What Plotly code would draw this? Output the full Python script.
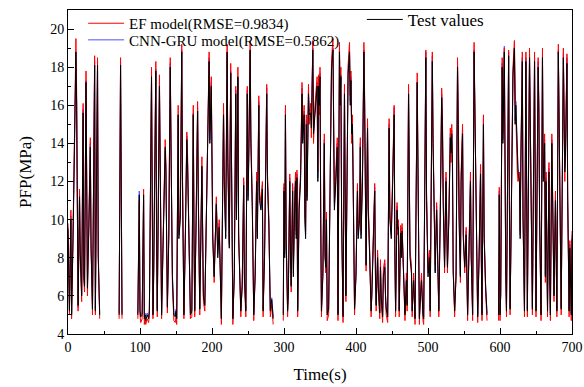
import plotly.graph_objects as go

N = None
time_s = [
    0, 2, 4, 5, 7, 9, 11, 12, 13, 14,
    16, 17, 19, 21, 22, 23, 25, 26, 27, 29,
    31, 32, 34, 37, 38, 41, 42, 44, 45,
    71, 73, 75, 76,
    97, 99, 100, 101, 103, 105, 106, 107, 108, 110,
    112, 113, 116, 117, 118, 119, 122, 123, 124, 127,
    128, 130, 132, 135, 136, 138, 140, 142, 143, 145,
    147, 149, 150, 151, 153, 154, 156, 158, 159, 161,
    163, 165, 166, 168, 170, 172, 174, 175, 176, 178,
    180, 181, 183, 186, 188, 190, 193, 196, 197, 199,
    201, 203, 206, 208, 210, 212, 213, 216, 217, 219,
    221, 222, 224, 226, 227, 229, 231, 233, 234, 236,
    237, 239, 240, 242, 244, 245, 247, 249, 250, 251,
    253, 254, 256, 258, 260, 262, 263, 265, 266, 268,
    270, 271, 273, 276, 277, 279, 281, 283, 285, 286,
    299, 300, 301, 302, 303, 305, 306, 308, 309, 310,
    312, 313, 315, 316, 317, 318, 319, 321, 323, 325,
    326, 328, 329, 330, 331, 332, 334, 335, 337, 338,
    340, 341, 343, 344, 346, 347, 348, 349, 350, 351,
    352, 354, 356, 357, 358, 359, 360, 362, 364, 366,
    368, 369, 370, 372, 374, 375, 377, 378, 379, 380,
    382, 384, 385, 386, 389, 391, 392, 393, 394, 395,
    396, 398, 400, 402, 403, 405, 406, 407, 409, 411,
    412, 413, 414, 416, 417, 419, 421, 422, 424, 426,
    427, 428, 430, 431, 433, 434, 435, 437, 438, 440,
    441, 442, 444, 446, 447, 449, 451, 453, 454, 455,
    457, 458, 459, 460, 462, 463, 464, 466, 468, 470,
    471, 473, 474, 475, 477, 478, 480, 481, 482, 485,
    486, 487, 488, 490, 491, 493, 494, 497, 498, 500,
    502, 503, 504, 506, 507, 509, 510, 512, 513, 515,
    517, 519, 520, 521, 523, 525, 527, 529, 531, 532,
    533, 534, 535, 537, 539, 541, 542, 543, 545, 546,
    548, 549, 551, 553, 555, 557, 559, 560, 562, 564,
    565, 566, 568, 569, 571, 573, 574, 575, 577, 578,
    580, 582, 583,
    598, 599, 600, 601, 603, 604, 606, 607, 608, 609,
    612, 613, 614, 615, 616, 618, 620, 621, 622, 624,
    625, 627, 628, 629, 631, 632, 634, 636, 637, 638,
    641, 642, 643, 645, 648, 649, 650, 653, 654, 655,
    657, 659, 660, 661, 662, 663, 664, 666, 668, 669,
    670, 672, 673, 674, 675, 677, 679, 681, 682, 683,
    685, 688, 689, 690, 691, 693, 694, 696, 697, 698,
    699, 700,
]

test_values = [
    9.5, 5.2, 10.0, 5.0, 9.0, 14.5, 18.8, 16.0, 8.0, 5.5,
    11.2, 8.2, 6.0, 15.6, 7.0, 6.5, 17.2, 10.0, 6.4, 9.6,
    13.8, 8.5, 5.3, 18.1, 5.2, 18.1, 8.0, 5.0, N,
    5.0, 18.1, 5.0, N,
    5.0, 11.3, 5.2, 4.9, 5.0, 11.3, 4.8, 5.0, 4.7, 5.0,
    4.8, 5.2, 17.5, 8.0, 5.0, 7.0, 17.8, 9.0, 5.2, 17.0,
    12.0, 5.0, 8.5, 13.8, 12.5, 5.4, 9.0, 18.0, 14.0, 7.0,
    5.0, 4.9, 5.2, 4.8, 15.5, 9.0, 10.0, 18.8, 12.0, 5.0,
    9.0, 14.2, 13.0, 9.0, 5.0, 5.2, 15.5, 9.0, 5.2, 10.0,
    15.7, 11.0, 5.3, 12.8, 6.0, 5.5, 11.0, 18.3, 14.0, 17.0,
    9.0, 7.0, 10.8, 8.0, 9.6, 5.0, 4.8, 15.5, 12.0, 9.0,
    18.8, 13.0, 8.5, 17.7, 12.0, 4.8, 7.0, 16.6, 10.0, 17.5,
    9.0, 6.0, 5.2, 6.5, 11.8, 7.0, 5.2, 16.6, 11.0, 13.0,
    18.9, 14.0, 10.5, 5.0, 7.0, 12.0, 9.0, 16.0, 11.0, 10.5,
    11.6, 5.2, 8.0, 16.6, 12.0, 9.6, 5.2, 5.8, 4.8, N,
    5.0, 11.5, 8.0, 15.5, 9.0, 5.2, 6.0, 12.0, 8.0, 6.5,
    11.5, 7.0, 11.0, 12.0, 9.0, 12.2, 5.2, 10.5, 12.0, 16.6,
    14.0, 15.5, 10.0, 9.0, 15.0, 11.0, 16.6, 15.5, 15.6, 14.8,
    18.9, 14.5, 15.5, 16.0, 17.0, 12.0, 17.0, 16.0, 17.5, 10.0,
    5.2, 7.0, 14.0, 8.0, 7.5, 10.0, 5.0, 5.3, 12.0, 17.9,
    18.9, 15.0, 10.5, 12.0, 13.8, 5.0, 18.8, 16.0, 17.5, 10.0,
    4.9, 16.6, 10.0, 6.0, 17.6, 18.8, 16.0, 17.3, 14.5, 15.0,
    12.0, 5.3, 7.0, 11.5, 9.0, 10.0, 13.8, 9.0, 12.0, 18.8,
    16.0, 9.0, 7.6, 14.8, 10.5, 8.0, 5.2, 6.0, 8.8, 11.5,
    7.0, 5.5, 8.0, 6.5, 5.1, 7.5, 6.0, 4.9, 7.0, 7.5,
    6.0, 5.3, 4.9, 14.8, 10.0, 9.0, 12.0, 15.5, 8.0, 5.2,
    10.5, 9.5, 9.6, 5.2, 9.3, 8.0, 9.4, 7.6, 5.0, 6.8,
    5.5, 16.6, 11.0, 8.0, 7.2, 5.2, 6.8, 5.5, 4.8, 17.2,
    11.0, 6.5, 4.8, 6.2, 6.8, 5.0, 4.8, 18.5, 11.0, 7.0,
    8.0, 5.2, 10.0, 18.3, 14.0, 10.0, 7.2, 10.5, 8.0, 5.2,
    10.0, 16.4, 15.0, 11.0, 7.5, 12.0, 7.5, 10.0, 14.3, 13.5,
    14.5, 13.0, 7.2, 5.2, 7.0, 18.0, 15.0, 10.2, 7.0, 12.0,
    14.5, 9.0, 7.5, 9.2, 5.0, 8.0, 12.0, 8.0, 5.0, 18.8,
    16.0, 12.0, 7.0, 4.9, 8.0, 12.4, 8.0, 5.0, 15.0, 9.0,
    6.5, 5.0, N,
    5.0, 11.3, 5.0, 6.0, 18.0, 14.0, 18.8, 10.0, 7.0, 5.2,
    18.6, 11.0, 5.3, 8.0, 11.0, 17.5, 19.0, 15.0, 16.0, 13.0,
    12.5, 12.0, 9.0, 13.0, 18.3, 10.0, 5.2, 18.3, 12.0, 5.2,
    18.5, 15.0, 10.5, 5.3, 18.3, 8.0, 5.2, 18.0, 15.5, 10.0,
    5.0, 18.5, 12.0, 13.0, 14.0, 7.0, 12.0, 5.2, 12.5, 7.0,
    5.0, 14.0, 10.0, 8.0, 6.0, 11.0, 5.2, 18.8, 15.5, 11.0,
    5.3, 18.5, 14.0, 12.5, 13.5, 18.2, 11.0, 5.2, 8.5, 7.0,
    5.0, 9.0,
]

ef_model = [
    9.8, 5.0, 10.5, 4.8, 9.4, 15.2, 19.5, 16.8, 8.4, 5.2,
    11.6, 8.0, 5.7, 16.1, 6.8, 6.2, 17.8, 10.4, 6.0, 10.0,
    14.3, 8.9, 5.0, 18.6, 5.0, 18.5, 8.4, 4.8, N,
    4.8, 18.5, 4.8, N,
    4.8, 11.0, 5.0, 4.6, 4.8, 11.6, 4.5, 4.8, 4.5, 4.8,
    4.6, 5.0, 18.0, 8.5, 4.8, 7.4, 18.3, 9.5, 4.9, 17.6,
    12.5, 4.8, 8.9, 14.2, 13.0, 5.1, 9.4, 18.5, 14.5, 6.6,
    4.7, 4.6, 4.9, 4.5, 16.0, 9.4, 10.5, 19.2, 12.6, 4.8,
    9.4, 14.6, 13.5, 8.6, 4.8, 4.9, 16.0, 9.4, 4.9, 10.4,
    16.2, 11.5, 5.0, 13.3, 5.7, 5.2, 11.5, 18.8, 14.6, 17.5,
    9.4, 6.7, 11.2, 8.4, 10.0, 4.7, 4.5, 16.1, 12.5, 9.4,
    19.2, 13.5, 8.9, 18.2, 12.5, 4.5, 7.4, 17.0, 10.5, 18.0,
    9.5, 5.7, 4.9, 6.8, 12.2, 6.7, 4.9, 17.0, 11.5, 13.5,
    19.4, 14.6, 10.9, 4.7, 7.4, 12.5, 9.4, 16.5, 11.5, 10.9,
    12.0, 4.9, 8.4, 17.1, 12.5, 10.0, 4.9, 5.5, 4.5, N,
    4.7, 11.9, 8.4, 16.0, 9.4, 4.9, 6.3, 12.4, 8.4, 6.2,
    11.9, 7.4, 11.4, 12.5, 9.4, 12.6, 4.9, 10.9, 12.4, 17.2,
    14.5, 16.0, 10.5, 9.4, 15.5, 11.5, 17.1, 15.0, 16.1, 14.3,
    19.4, 14.0, 16.0, 16.5, 17.5, 12.5, 17.6, 15.5, 18.0, 10.5,
    4.9, 7.4, 14.5, 8.4, 7.2, 10.4, 4.7, 5.0, 12.5, 18.4,
    19.5, 15.5, 10.9, 12.5, 14.3, 4.7, 19.3, 16.5, 18.0, 10.5,
    4.6, 17.1, 10.5, 5.7, 18.1, 19.3, 16.5, 17.8, 14.0, 15.5,
    12.5, 5.0, 7.4, 11.9, 9.4, 10.4, 14.3, 9.4, 12.5, 19.3,
    16.5, 9.4, 7.3, 15.3, 10.9, 8.4, 4.9, 6.3, 9.2, 11.9,
    7.4, 5.2, 8.4, 6.2, 4.8, 7.9, 5.7, 4.6, 7.4, 7.9,
    5.7, 5.0, 4.6, 15.3, 10.5, 9.4, 12.5, 16.0, 8.4, 4.9,
    10.9, 9.2, 10.0, 4.9, 9.7, 8.4, 9.8, 7.3, 4.7, 7.2,
    5.2, 17.1, 11.5, 8.4, 7.6, 4.9, 7.2, 5.2, 4.5, 17.7,
    11.5, 6.2, 4.5, 6.6, 7.2, 4.7, 4.5, 18.9, 11.5, 7.4,
    8.4, 4.9, 10.5, 18.8, 14.5, 10.4, 7.6, 10.9, 8.4, 4.9,
    10.4, 16.9, 15.5, 11.5, 7.2, 12.5, 7.2, 10.4, 14.8, 13.0,
    15.0, 12.5, 7.6, 4.9, 7.4, 18.5, 15.5, 10.6, 6.7, 12.5,
    15.0, 9.4, 7.2, 9.6, 4.7, 8.4, 12.5, 8.4, 4.7, 19.3,
    16.5, 12.5, 6.7, 4.6, 8.4, 12.9, 8.4, 4.7, 15.5, 9.4,
    6.2, 4.7, N,
    4.7, 11.7, 4.7, 6.3, 18.5, 14.5, 19.0, 10.5, 7.4, 4.9,
    18.9, 11.5, 5.0, 8.4, 11.5, 18.0, 19.4, 15.5, 15.5, 12.5,
    12.0, 12.5, 9.4, 13.5, 18.8, 10.5, 4.9, 18.8, 12.5, 4.9,
    19.0, 15.5, 10.9, 5.0, 18.8, 8.4, 4.9, 18.5, 16.0, 10.5,
    4.7, 19.0, 12.5, 13.5, 14.5, 6.7, 12.5, 4.9, 13.0, 7.4,
    4.7, 14.5, 10.5, 8.4, 5.7, 11.5, 4.9, 19.2, 16.0, 11.5,
    5.0, 19.0, 14.5, 12.0, 14.0, 18.7, 11.5, 4.9, 8.9, 7.4,
    4.7, 9.4,
]

cnn_gru_model = [
    9.6, 5.3, 10.2, 5.1, 9.1, 14.8, 18.3, 16.2, 8.2, 5.4,
    11.4, 8.3, 6.1, 15.8, 7.2, 6.6, 17.3, 10.1, 6.5, 9.8,
    14.0, 8.7, 5.4, 18.3, 5.3, 18.2, 8.1, 5.1, N,
    5.1, 18.2, 5.1, N,
    5.1, 11.5, 5.3, 5.0, 5.1, 11.0, 4.9, 5.1, 4.9, 5.1,
    4.9, 5.3, 17.2, 8.2, 5.1, 7.1, 17.9, 9.2, 5.3, 17.2,
    12.2, 5.1, 8.6, 13.6, 12.8, 5.5, 9.2, 18.2, 14.2, 7.2,
    5.1, 5.0, 5.3, 4.9, 15.3, 9.2, 10.2, 18.9, 12.2, 5.1,
    9.2, 14.4, 13.2, 9.2, 5.1, 5.3, 15.6, 9.1, 5.3, 10.2,
    15.9, 11.2, 5.4, 12.6, 6.2, 5.6, 11.2, 18.5, 14.2, 17.2,
    9.2, 7.1, 10.9, 8.2, 9.8, 5.1, 4.9, 15.7, 12.2, 9.1,
    18.7, 13.2, 8.7, 17.8, 12.2, 4.9, 7.2, 16.8, 10.2, 17.4,
    9.2, 6.1, 5.3, 6.6, 12.0, 7.2, 5.3, 16.8, 11.2, 13.2,
    18.8, 14.2, 10.7, 5.1, 7.2, 12.2, 9.1, 16.2, 11.2, 10.6,
    11.8, 5.3, 8.2, 16.9, 12.2, 9.8, 5.3, 5.9, 4.9, N,
    5.1, 11.7, 8.2, 15.7, 9.2, 5.3, 6.1, 12.2, 8.2, 6.6,
    11.7, 7.2, 11.2, 12.2, 9.2, 12.4, 5.3, 10.7, 12.2, 16.9,
    14.2, 15.7, 10.2, 9.2, 15.2, 11.2, 16.8, 15.7, 15.8, 15.0,
    19.0, 14.8, 15.7, 16.2, 17.2, 12.2, 17.2, 16.2, 17.7, 10.2,
    5.3, 7.2, 14.2, 8.2, 7.6, 10.2, 5.1, 5.4, 12.2, 18.0,
    19.0, 15.2, 10.7, 12.2, 14.0, 5.1, 18.9, 16.2, 17.6, 10.2,
    5.0, 16.8, 10.2, 6.1, 17.8, 18.9, 16.2, 17.5, 14.7, 15.2,
    12.2, 5.4, 7.2, 11.7, 9.2, 10.2, 14.0, 9.2, 12.2, 18.9,
    16.2, 9.2, 7.7, 15.0, 10.7, 8.2, 5.3, 6.1, 9.0, 11.7,
    7.2, 5.6, 8.2, 6.6, 5.2, 7.7, 6.1, 5.0, 7.2, 7.7,
    6.1, 5.4, 5.0, 15.0, 10.2, 9.2, 12.2, 15.9, 8.2, 5.3,
    10.7, 9.6, 9.8, 5.3, 9.5, 8.2, 9.6, 7.7, 5.1, 6.9,
    5.6, 16.8, 11.2, 8.2, 7.3, 5.3, 6.9, 5.6, 4.9, 17.2,
    11.2, 6.6, 4.9, 6.3, 6.9, 5.1, 4.9, 18.8, 11.2, 7.2,
    8.2, 5.3, 10.2, 18.6, 14.2, 10.2, 7.3, 10.7, 8.2, 5.3,
    10.2, 16.6, 15.2, 11.2, 7.6, 12.2, 7.6, 10.2, 14.5, 13.7,
    14.7, 13.2, 7.3, 5.3, 7.2, 18.2, 15.2, 10.4, 7.1, 12.2,
    14.7, 9.2, 7.6, 9.4, 5.1, 8.2, 12.2, 8.2, 5.1, 18.9,
    16.2, 12.2, 7.1, 5.0, 8.2, 12.6, 8.2, 5.1, 15.2, 9.2,
    6.6, 5.1, N,
    5.1, 11.5, 5.1, 6.1, 18.2, 14.2, 19.1, 10.2, 7.2, 5.3,
    18.8, 11.2, 5.4, 8.2, 11.2, 17.7, 19.0, 15.2, 16.2, 13.2,
    12.7, 12.2, 9.2, 13.2, 18.5, 10.2, 5.3, 18.5, 12.2, 5.3,
    18.7, 15.2, 10.7, 5.4, 18.5, 8.2, 5.3, 18.3, 15.7, 10.2,
    5.1, 18.7, 12.2, 13.2, 14.2, 7.1, 12.2, 5.3, 12.7, 7.2,
    5.1, 14.2, 10.2, 8.2, 6.1, 11.2, 5.3, 18.9, 15.7, 11.2,
    5.4, 18.7, 14.2, 12.7, 13.7, 18.5, 11.2, 5.3, 8.7, 7.2,
    5.1, 9.2,
]

x_ticks = [0, 100, 200, 300, 400, 500, 600, 700]
y_ticks = [4, 6, 8, 10, 12, 14, 16, 18, 20]

FONT = "Liberation Serif, Times New Roman, serif"

fig = go.Figure()
fig.add_trace(go.Scatter(x=time_s, y=cnn_gru_model, mode="lines",
                         name="CNN-GRU model(RMSE=0.5862)",
                         line=dict(color="#5050ff", width=1), legend="legend3"))
fig.add_trace(go.Scatter(x=time_s, y=ef_model, mode="lines",
                         name="EF model(RMSE=0.9834)",
                         line=dict(color="#ff0000", width=1), legend="legend"))
fig.add_trace(go.Scatter(x=time_s, y=test_values, mode="lines",
                         name="Test values",
                         line=dict(color="#000000", width=1), legend="legend2"))

axis_common = dict(showline=True, linecolor="black", linewidth=1, mirror=True,
                   ticks="inside", ticklen=6, tickwidth=1, tickcolor="black",
                   showgrid=False, zeroline=False,
                   tickfont=dict(family=FONT, size=14, color="black"))

fig.update_xaxes(range=[0, 700], tickvals=x_ticks,
                 minor=dict(dtick=50, tick0=0, ticks="inside", ticklen=3, tickcolor="black"),
                 title=dict(text="Time(s)", font=dict(family=FONT, size=17, color="black"), standoff=14),
                 **axis_common)
fig.update_yaxes(range=[4, 21], tickvals=y_ticks,
                 minor=dict(dtick=1, tick0=4, ticks="inside", ticklen=3, tickcolor="black"),
                 title=dict(text="PFP(MPa)", font=dict(family=FONT, size=17, color="black"), standoff=14),
                 **axis_common)

leg_common = dict(xanchor="left", yanchor="top", bgcolor="rgba(0,0,0,0)", itemwidth=36)
fig.update_layout(
    width=584, height=387,
    margin=dict(l=68, r=12, t=10, b=53, autoexpand=False),
    plot_bgcolor="white", paper_bgcolor="white",
    showlegend=True,
    legend=dict(x=0.030, y=1.0093, font=dict(family=FONT, size=15, color="black"), **leg_common),
    legend3=dict(x=0.030, y=0.958, font=dict(family=FONT, size=15, color="black"), **leg_common),
    legend2=dict(x=0.583, y=1.025, font=dict(family=FONT, size=17, color="black"), **leg_common),
)

fig.write_html("out.html")
